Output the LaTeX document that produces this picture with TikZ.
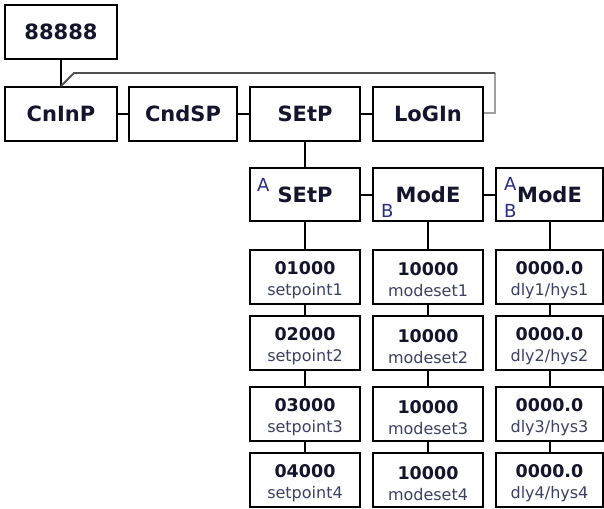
\documentclass[tikz,border=0pt]{standalone}
\usepackage{fontspec}
\setmainfont{DejaVu Sans}
\definecolor{txtc}{RGB}{20,20,45}
\definecolor{subc}{RGB}{60,65,100}
\definecolor{abc}{RGB}{40,45,130}
\definecolor{loopdark}{RGB}{80,80,80}
\definecolor{looplight}{RGB}{160,160,160}
\newcommand\bigf{\fontsize{21}{25}\selectfont\bfseries}
\newcommand\numf{\fontsize{17.5}{21}\selectfont\bfseries}
\newcommand\subf{\fontsize{16}{21}\selectfont}
\newcommand\abf{\fontsize{18}{21}\selectfont}
\newcommand\mkval[6]{%
  \node[box, minimum width=#4pt, minimum height=54pt] (#1) at (#2,#3) {};
  \node[valtxt] (#1t) at (#2,#3) {{\numf #5}\\{\color{subc}#6}};
}
\begin{document}
\begin{tikzpicture}[x=1pt,y=-1pt,
  box/.style={draw=black, line width=2pt, fill=white, inner sep=0pt,
              minimum width=110pt, minimum height=54pt, text=txtc, font=\bigf},
  valtxt/.style={align=center, inner sep=0pt, text=txtc, font=\subf, yshift=-3.25pt},
  ablbl/.style={inner sep=0pt, text=abc, font=\abf, anchor=base west},
  conn/.style={line width=2pt, draw=black},
  loopd/.style={line width=1.8pt, draw=loopdark},
  loopl/.style={line width=1.8pt, draw=looplight}]
\useasboundingbox (0,0) rectangle (604,508);

% top
\node[box, minimum width=112pt] (n0) at (61,32) {88888};

% row 2
\node[box, minimum width=112pt] (a1) at (61,114) {CnInP};
\node[box, minimum width=108pt] (a2) at (183,114) {CndSP};
\node[box] (a3) at (305,114) {SEtP};
\node[box] (a4) at (428,114) {LoGIn};

% row 3
\node[box, minimum height=53pt] (b1) at (305,194.5) {SEtP};
\node[box, minimum height=53pt] (b2) at (428,194.5) {ModE};
\node[box, minimum width=107pt, minimum height=53pt] (b3) at (549.5,194.5) {ModE};
\node[ablbl] (b1a) at (257,191) {A};
\node[ablbl] (b2b) at (381,217) {B};
\node[ablbl] (b3a) at (504,190) {A};
\node[ablbl] (b3b) at (504,217) {B};

% value boxes
\mkval{c1}{305}{276.5}{110}{01000}{setpoint1}
\mkval{c2}{305}{343}{110}{02000}{setpoint2}
\mkval{c3}{305}{414}{110}{03000}{setpoint3}
\mkval{c4}{305}{480}{110}{04000}{setpoint4}
\mkval{d1}{428}{276.5}{110}{10000}{modeset1}
\mkval{d2}{428}{343}{110}{10000}{modeset2}
\mkval{d3}{428}{414}{110}{10000}{modeset3}
\mkval{d4}{428}{480}{110}{10000}{modeset4}
\mkval{e1}{549.5}{276.5}{107}{0000.0}{dly1/hys1}
\mkval{e2}{549.5}{343}{107}{0000.0}{dly2/hys2}
\mkval{e3}{549.5}{414}{107}{0000.0}{dly3/hys3}
\mkval{e4}{549.5}{480}{107}{0000.0}{dly4/hys4}

% connectors
\draw[conn] (n0.south) -- (a1.north);
\draw[conn] (a1.east) -- (a2.west);
\draw[conn] (a2.east) -- (a3.west);
\draw[conn] (a3.east) -- (a4.west);
\draw[conn] (a3.south) -- (b1.north);
\draw[conn] (b1.east) -- (b2.west);
\draw[conn] (b2.east) -- (b3.west);
\draw[conn] (b1.south) -- (c1.north);
\draw[conn] (c1.south) -- (c2.north);
\draw[conn] (c2.south) -- (c3.north);
\draw[conn] (c3.south) -- (c4.north);
\draw[conn] (b2.south) -- (d1.north);
\draw[conn] (d1.south) -- (d2.north);
\draw[conn] (d2.south) -- (d3.north);
\draw[conn] (d3.south) -- (d4.north);
\draw[conn] (b3.south) -- (e1.north);
\draw[conn] (e1.south) -- (e2.north);
\draw[conn] (e2.south) -- (e3.north);
\draw[conn] (e3.south) -- (e4.north);

% return loop
\coordinate (lp1) at (495,73);
\coordinate (lp2) at (74,73);
\draw[loopl] ([yshift=1pt]a4.east) -| (lp1);
\draw[loopd] (lp1) -- (lp2) -- (a1.north);
\end{tikzpicture}
\end{document}
